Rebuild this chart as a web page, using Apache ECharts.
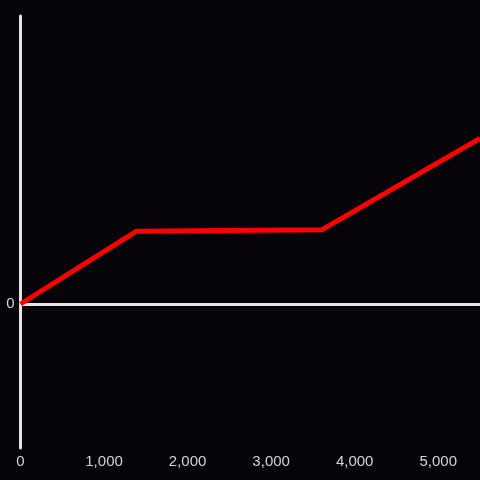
<!DOCTYPE html>
<html>
<head>
<meta charset="utf-8">
<script src="https://cdn.jsdelivr.net/npm/echarts@6/dist/echarts.min.js"></script>
<style>
  html, body { margin: 0; padding: 0; background: #060408; }
  #chart { width: 480px; height: 480px; }
</style>
</head>
<body>
<div id="chart"></div>
<script>
const xValues = [0, 1385, 3605, 5500];
const yValues = [0, 50.5, 51.5, 115];
const xTicks = [0, 1000, 2000, 3000, 4000, 5000];

const points = xValues.map((x, i) => [x, yValues[i]]);

const chart = echarts.init(document.getElementById('chart'));

const option = {
  backgroundColor: '#060408',
  animation: false,
  grid: { left: 20.5, right: 0, top: 16, bottom: 32 },
  xAxis: {
    type: 'value',
    min: 0,
    max: 5500,
    interval: 1000,
    axisLine: { show: false },
    axisTick: { show: false },
    splitLine: { show: false },
    axisLabel: {
      color: '#d4d4d4',
      fontSize: 15,
      fontFamily: 'Liberation Sans, sans-serif',
      margin: 6,
      showMaxLabel: false,
      formatter: (v) => (xTicks.includes(v) ? v.toLocaleString('en-US') : ''),
    },
  },
  yAxis: {
    type: 'value',
    min: -100,
    max: 200,
    interval: 100,
    axisLine: { show: true, lineStyle: { color: '#e4e4e4', width: 3 } },
    axisTick: { show: false },
    splitLine: { show: false },
    axisLabel: {
      color: '#d4d4d4',
      fontSize: 15,
      fontFamily: 'Liberation Sans, sans-serif',
      margin: 6,
      formatter: (v) => (v === 0 ? '0' : ''),
    },
  },
  series: [
    {
      type: 'line',
      data: points,
      showSymbol: false,
      z: 5,
      lineStyle: { color: '#ff0000', width: 5 },
      markLine: {
        silent: true,
        z: 1,
        symbol: ['none', 'none'],
        label: { show: false },
        lineStyle: { color: '#e4e4e4', width: 3, type: 'solid' },
        data: [{ yAxis: 0 }],
      },
    },
  ],
};

chart.setOption(option);
</script>
</body>
</html>
